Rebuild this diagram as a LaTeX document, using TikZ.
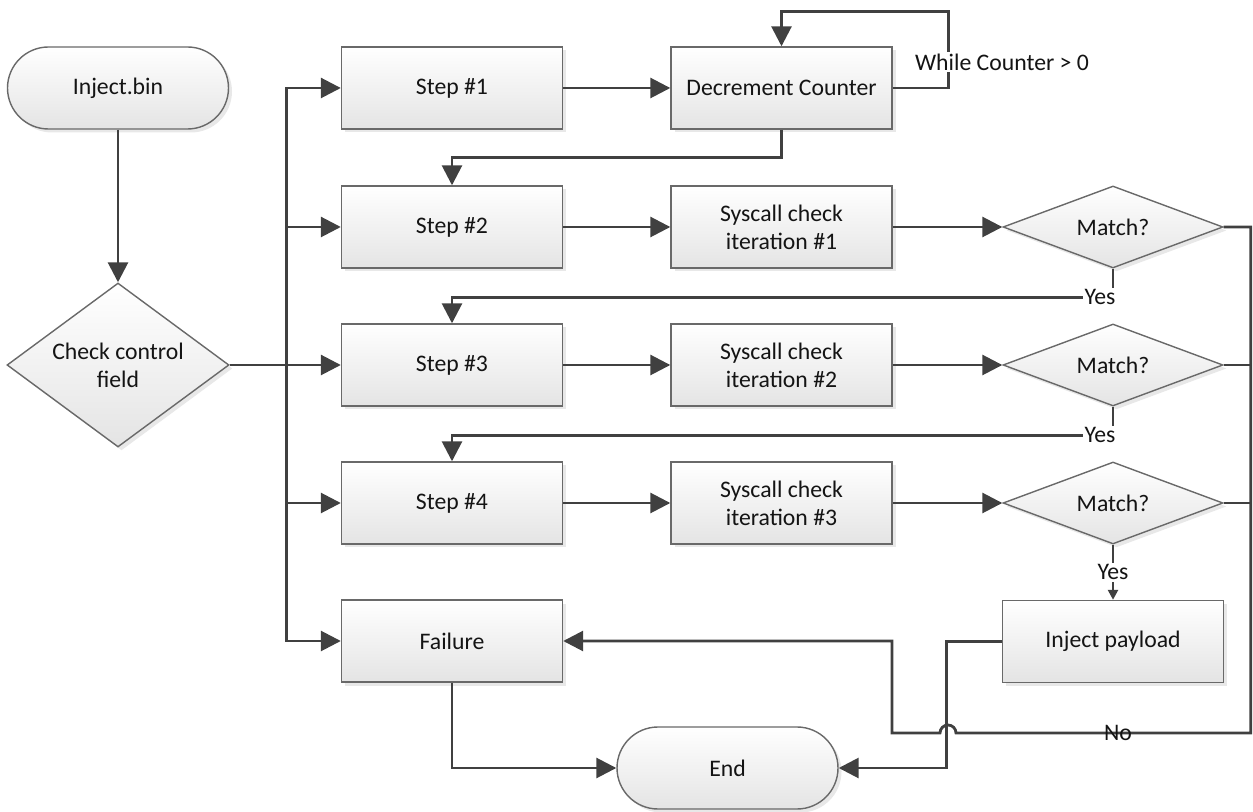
\documentclass[tikz,border=0pt]{standalone}
\usepackage{fontspec}
\setmainfont{Carlito}
\definecolor{linegray}{RGB}{64, 64, 64}
\definecolor{edgegray}{RGB}{105, 105, 105}
\definecolor{shadegray}{RGB}{228, 228, 228}
\definecolor{textdark}{RGB}{20, 20, 20}
\usetikzlibrary{shapes.geometric, arrows.meta, positioning, calc, shadows}

\begin{document}
\begin{tikzpicture}[
  font=\fontsize{13.5}{16}\selectfont, text=textdark,
  box/.style={draw=edgegray, line width=0.8pt, top color=white, bottom color=shadegray,
    drop shadow={shadow xshift=0.07cm, shadow yshift=-0.07cm, opacity=0.18},
    minimum width=4.42cm, minimum height=1.64cm, align=center, inner sep=2pt},
  term/.style={box, rounded corners=0.82cm},
  decide/.style={box, diamond, aspect=2.7, inner sep=0pt, minimum width=4.4cm, minimum height=1.64cm},
  link/.style={draw=linegray, line width=1.6pt},
  arr/.style={link, -{Triangle[length=0.4cm, width=0.4cm]}},
  lbl/.style={fill=white, inner sep=1pt}
]
  \useasboundingbox (0,0) rectangle (25.06,16.22);

  % Start and entry check
  \node[term] (inj) at (2.36, 14.46) {Inject.bin};
  \node[decide, aspect=1.35, minimum width=4.44cm, minimum height=3.28cm] (check) at (2.36, 8.92) {Check control\\field};

  % Steps
  \node[box] (s1) at (9.04, 14.46) {Step \#1};
  \node[box] (s2) at (9.04, 11.68) {Step \#2};
  \node[box] (s3) at (9.04, 8.92) {Step \#3};
  \node[box] (s4) at (9.04, 6.16) {Step \#4};
  \node[box] (fail) at (9.04, 3.40) {Failure};

  % Counter and syscall checks
  \node[box] (dec) at (15.63, 14.46) {Decrement Counter};
  \node[box] (sc1) at (15.63, 11.68) {Syscall check\\iteration \#1};
  \node[box] (sc2) at (15.63, 8.92) {Syscall check\\iteration \#2};
  \node[box] (sc3) at (15.63, 6.16) {Syscall check\\iteration \#3};

  % Matches
  \node[decide] (m1) at (22.26, 11.68) {Match?};
  \node[decide] (m2) at (22.26, 8.92) {Match?};
  \node[decide] (m3) at (22.26, 6.16) {Match?};
  \node[box] (pay) at (22.26, 3.39) {Inject payload};

  \node[term] (endn) at (14.55, 0.86) {End};

  % Connectors
  \draw[arr] (inj) -- (check);
  \foreach \n in {s1, s2, s3, s4, fail}
    \draw[arr] (check.east) -- ++(1.14,0) |- (\n.west);
  \foreach \a/\b in {s1/dec, s2/sc1, s3/sc2, s4/sc3, sc1/m1, sc2/m2, sc3/m3}
    \draw[arr] (\a) -- (\b);

  \draw[arr] (dec.east) -- ++(1.12,0) |- ($(dec.north)+(0,0.7)$) -- (dec.north);
  \node[lbl] (while) at (20.04, 14.98) {While Counter > 0};
  \draw[arr] (dec.south) -- ++(0,-0.56) -| (s2.north);

  \foreach \m/\s in {m1/s3, m2/s4}
    \draw[arr] (\m.south) -- ++(0,-0.58) -| (\s.north);
  \node[lbl] (yes1) at (22.0, 10.28) {Yes};
  \node[lbl] (yes2) at (22.0, 7.52) {Yes};
  \draw[link, -{Triangle[length=0.2cm, width=0.2cm]}] (m3.south) -- node[lbl] (yes3) {Yes} (pay.north);

  % No branch back to failure
  \foreach \m in {m2, m3}
    \draw[link] (\m.east) -- ++(0.54,0);
  \draw[arr] (m1.east) -- ++(0.54,0) |- (19.12,1.56)
    arc[start angle=0, end angle=180, radius=0.16] -- (17.84,1.56) |- (fail.east);
  \node (nolbl) at (22.36, 1.56) {No};

  \draw[arr] (pay.west) -- ++(-1.1,0) |- (endn.east);
  \draw[arr] (fail.south) |- (endn.west);
\end{tikzpicture}
\end{document}
